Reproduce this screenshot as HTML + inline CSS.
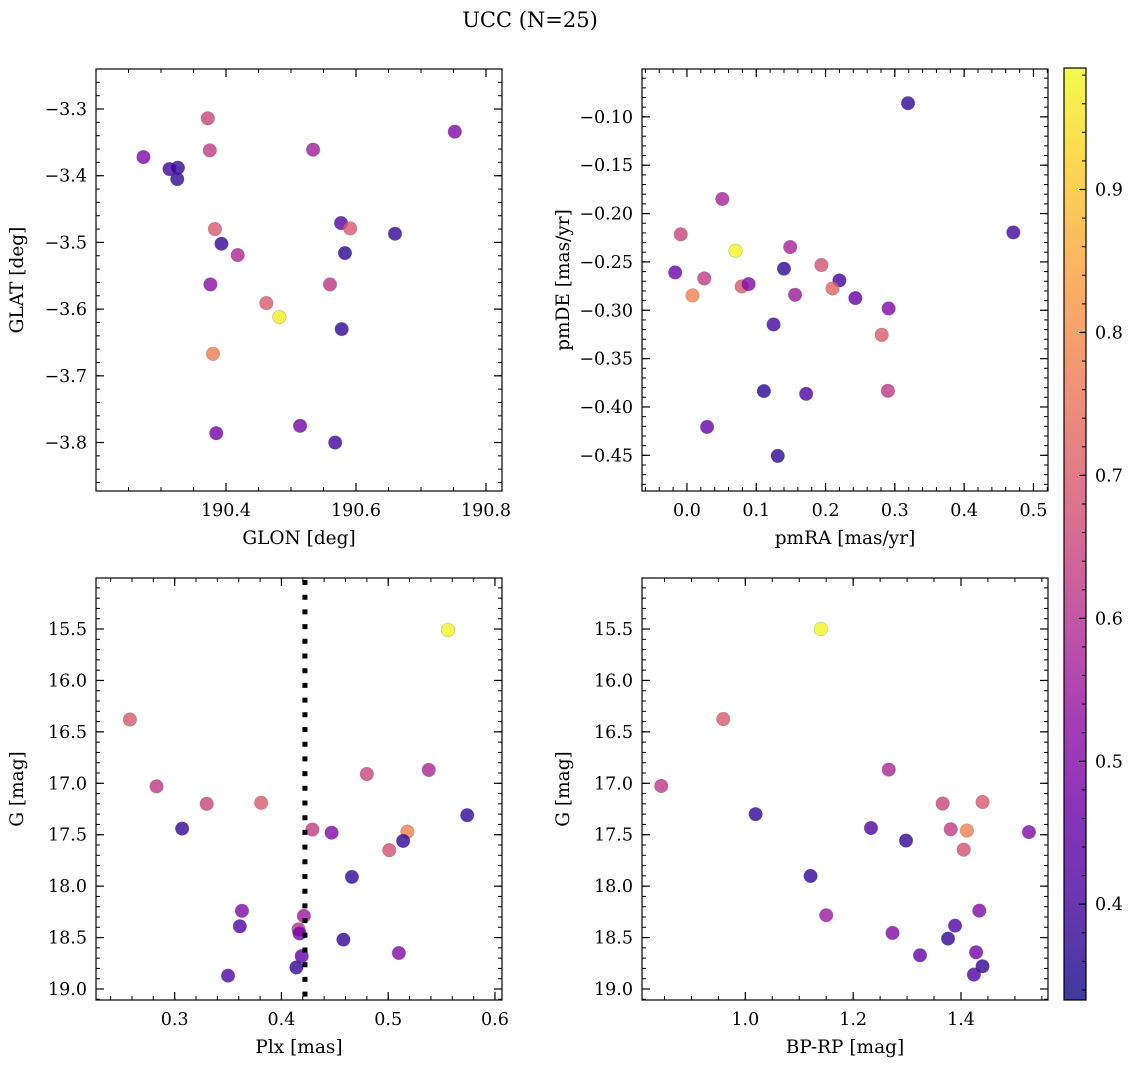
<!DOCTYPE html>
<html><head><meta charset="utf-8"><style>
body{margin:0;background:#fff}
svg text{font-family:"DejaVu Serif","Liberation Serif",serif;fill:#000}
</style></head><body>
<svg id="fig" width="1136" height="1068" xmlns="http://www.w3.org/2000/svg">
<text x="530" y="27" font-size="21" text-anchor="middle">UCC (N=25)</text>
</svg>
<script>
// ---- data ----
const glon=[190.273,190.313,190.326,190.325,190.372,190.375,190.383,190.393,190.418,190.376,190.462,190.482,190.380,190.385,190.514,190.568,190.577,190.591,190.583,190.660,190.578,190.560,190.534,190.752];
const glat=[-3.372,-3.390,-3.388,-3.405,-3.314,-3.362,-3.480,-3.502,-3.519,-3.563,-3.591,-3.612,-3.667,-3.786,-3.775,-3.800,-3.471,-3.479,-3.516,-3.487,-3.630,-3.563,-3.361,-3.334];
const probA=[0.50,0.40,0.38,0.38,0.65,0.63,0.70,0.38,0.58,0.52,0.70,0.97,0.77,0.48,0.48,0.40,0.43,0.70,0.37,0.38,0.37,0.62,0.56,0.50];
const pmra=[0.319,0.471,0.051,-0.009,0.070,-0.017,0.025,0.008,0.079,0.089,0.140,0.149,0.156,0.194,0.220,0.210,0.243,0.291,0.281,0.290,0.125,0.111,0.172,0.029,0.131];
const pmde=[-0.0859,-0.2195,-0.1849,-0.2215,-0.2384,-0.2609,-0.2671,-0.2847,-0.2754,-0.2729,-0.2570,-0.2346,-0.2840,-0.2532,-0.2691,-0.2774,-0.2874,-0.2981,-0.3254,-0.3833,-0.3147,-0.3836,-0.3864,-0.4206,-0.4506];
const probB=[0.38,0.40,0.57,0.65,0.98,0.47,0.63,0.78,0.70,0.50,0.38,0.57,0.55,0.68,0.40,0.72,0.45,0.50,0.70,0.62,0.40,0.37,0.42,0.45,0.37];
const plx=[0.556,0.258,0.283,0.330,0.381,0.307,0.480,0.538,0.574,0.429,0.447,0.518,0.514,0.501,0.466,0.363,0.361,0.421,0.416,0.417,0.458,0.510,0.419,0.414,0.350];
const gmagC=[15.51,16.38,17.03,17.20,17.19,17.44,16.91,16.87,17.31,17.45,17.48,17.47,17.56,17.65,17.91,18.24,18.39,18.29,18.42,18.46,18.52,18.65,18.68,18.79,18.87];
const probC=[0.98,0.70,0.62,0.65,0.70,0.38,0.65,0.58,0.38,0.63,0.50,0.78,0.38,0.68,0.38,0.50,0.42,0.55,0.60,0.48,0.38,0.50,0.45,0.38,0.42];
const plxLine=0.422;
const bprp=[1.140,0.959,0.844,1.019,1.266,1.366,1.440,1.233,1.381,1.411,1.526,1.298,1.405,1.121,1.150,1.434,1.389,1.273,1.376,1.428,1.324,1.440,1.424];
const gmagD=[15.50,16.375,17.026,17.30,16.867,17.197,17.182,17.435,17.447,17.46,17.474,17.557,17.645,17.901,18.283,18.238,18.384,18.455,18.51,18.643,18.672,18.779,18.86];
const probD=[0.98,0.70,0.62,0.38,0.58,0.65,0.70,0.42,0.63,0.78,0.50,0.38,0.68,0.38,0.55,0.50,0.42,0.50,0.38,0.48,0.45,0.38,0.42];
const ticksA_x=[190.4,190.6,190.8], ticksA_y=[-3.3,-3.4,-3.5,-3.6,-3.7,-3.8];
const ticksB_x=[0.0,0.1,0.2,0.3,0.4,0.5], ticksB_y=[-0.10,-0.15,-0.20,-0.25,-0.30,-0.35,-0.40,-0.45];
const ticksC_x=[0.3,0.4,0.5,0.6], ticksG=[15.5,16.0,16.5,17.0,17.5,18.0,18.5,19.0];
const ticksD_x=[1.0,1.2,1.4];
const cbarTicks=[0.4,0.5,0.6,0.7,0.8,0.9];
const cmin=0.333,cmax=0.985;

const NS="http://www.w3.org/2000/svg", svg=document.getElementById('fig');
function mk(tag,attrs,parent){const e=document.createElementNS(NS,tag);for(const k in attrs)e.setAttribute(k,attrs[k]);(parent||svg).appendChild(e);return e;}
const stops=[[13,8,135],[65,4,157],[106,0,168],[143,13,164],[177,42,144],[204,71,120],[225,100,98],[242,132,75],[252,166,54],[252,206,37],[240,249,33]];
function plasma(t){t=Math.max(0,Math.min(1,t))*10;const i=Math.min(9,Math.floor(t)),f=t-i;const a=stops[i],b=stops[i+1];return 'rgb('+a.map((v,k)=>Math.round(v+(b[k]-v)*f)).join(',')+')';}
function cnorm(v){return (v-cmin)/(cmax-cmin);}
const TF=17.5, LF=18.5;

function panel(name,box,xd,yd,xt,yt,xminor,yminor,xfmt,yfmt,xl,yl,xs,ys,cs){
  const [x0,y0,x1,y1]=box;
  const X=v=>x0+(v-xd[0])/(xd[1]-xd[0])*(x1-x0);
  const Y=v=>y0+(v-yd[0])/(yd[1]-yd[0])*(y1-y0);
  const g=mk('g',{});
  
  
  const lo=Math.min(xd[0],xd[1]),hi=Math.max(xd[0],xd[1]);
  for(let v=Math.ceil(lo/xminor-1e-6)*xminor;v<=hi+1e-9;v+=xminor){const p=X(v);
    mk('line',{x1:p,x2:p,y1:y1,y2:y1-4,stroke:'#000','stroke-width':1},g);mk('line',{x1:p,x2:p,y1:y0,y2:y0+4,stroke:'#000','stroke-width':1},g);}
  const ylo=Math.min(yd[0],yd[1]),yhi=Math.max(yd[0],yd[1]);
  for(let v=Math.ceil(ylo/yminor-1e-6)*yminor;v<=yhi+1e-9;v+=yminor){const p=Y(v);
    mk('line',{y1:p,y2:p,x1:x0,x2:x0+4,stroke:'#000','stroke-width':1},g);mk('line',{y1:p,y2:p,x1:x1,x2:x1-4,stroke:'#000','stroke-width':1},g);}
  xt.forEach(v=>{const p=X(v);
    mk('line',{x1:p,x2:p,y1:y1,y2:y1-8,stroke:'#000','stroke-width':1.2},g);mk('line',{x1:p,x2:p,y1:y0,y2:y0+8,stroke:'#000','stroke-width':1.2},g);
    const t=mk('text',{x:p,y:y1+25,'font-size':TF,'text-anchor':'middle'},g);t.textContent=xfmt(v);
    
    });
  yt.forEach(v=>{const p=Y(v);
    mk('line',{y1:p,y2:p,x1:x0,x2:x0+8,stroke:'#000','stroke-width':1.2},g);mk('line',{y1:p,y2:p,x1:x1,x2:x1-8,stroke:'#000','stroke-width':1.2},g);
    const t=mk('text',{x:x0-9,y:p+6,'font-size':TF,'text-anchor':'end'},g);t.textContent=yfmt(v);
    
    });
  xs.forEach((v,i)=>{const c=mk('circle',{cx:X(v),cy:Y(ys[i]),r:6.8,fill:plasma(cnorm(cs[i])),'fill-opacity':0.8,stroke:'#555','stroke-opacity':0.35,'stroke-width':0.6},g);
    
    });
  mk('rect',{x:x0,y:y0,width:x1-x0,height:y1-y0,fill:'none',stroke:'#000','stroke-width':1.2},g);
  const a=mk('text',{x:(x0+x1)/2,y:y1+53,'font-size':LF,'text-anchor':'middle'},g);a.textContent=xl;
  
  
  const b=mk('text',{x:0,y:0,'font-size':LF,'text-anchor':'middle',transform:`translate(${x0-73},${(y0+y1)/2}) rotate(-90)`},g);b.textContent=yl;
  
  
  return {X,Y,g};
}
const f1=v=>v.toFixed(1).replace('-','\u2212'), f2=v=>v.toFixed(2).replace('-','\u2212');
panel('glon-glat-panel',[96,69,502,491],[190.2,190.8246],[-3.24,-3.8727],ticksA_x,ticksA_y,0.05,0.02,f1,f1,'GLON [deg]','GLAT [deg]',glon,glat,probA);
panel('pm-panel',[642,69,1048,491],[-0.0649,0.5210],[-0.0505,-0.4869],ticksB_x,ticksB_y,0.02,0.01,f1,f2,'pmRA [mas/yr]','pmDE [mas/yr]',pmra,pmde,probB);
const pc=panel('plx-g-panel',[96,578,502,1000],[0.2263,0.6066],[15.004,19.107],ticksC_x,ticksG,0.02,0.1,f1,f1,'Plx [mas]','G [mag]',plx,gmagC,probC);
const ln=mk('line',{x1:pc.X(plxLine),x2:pc.X(plxLine),y1:580,y2:1000,stroke:'#000','stroke-width':5,'stroke-dasharray':'5 9.7'},pc.g);


panel('cmd-panel',[642,578,1048,1000],[0.8083,1.5614],[15.004,19.107],ticksD_x,ticksG,0.05,0.1,f1,f1,'BP-RP [mag]','G [mag]',bprp,gmagD,probD);

// colorbar
const cb=mk('g',{});


const cx0=1064,cx1=1086,cy0=68,cy1=1000;
const CY=v=>cy1-(v-cmin)/(cmax-cmin)*(cy1-cy0);
const gr=mk('linearGradient',{id:'cg',x1:0,y1:1,x2:0,y2:0},mk('defs',{},cb));
for(let i=0;i<=20;i++){mk('stop',{offset:i/20,'stop-color':plasma(i/20),'stop-opacity':0.8},gr);}
mk('rect',{x:cx0,y:cy0,width:cx1-cx0,height:cy1-cy0,fill:'url(#cg)'},cb);
for(let v=0.34;v<cmax;v+=0.02){mk('line',{x1:cx1,x2:cx1-4,y1:CY(v),y2:CY(v),stroke:'#000','stroke-width':1},cb);}
cbarTicks.forEach(v=>{mk('line',{x1:cx1,x2:cx1-7,y1:CY(v),y2:CY(v),stroke:'#000','stroke-width':1.2},cb);
  const t=mk('text',{x:cx1+9,y:CY(v)+6,'font-size':TF},cb);t.textContent=v.toFixed(1);
  
  });
mk('rect',{x:cx0,y:cy0,width:cx1-cx0,height:cy1-cy0,fill:'none',stroke:'#000','stroke-width':1.2},cb);
</script>
</body></html>
